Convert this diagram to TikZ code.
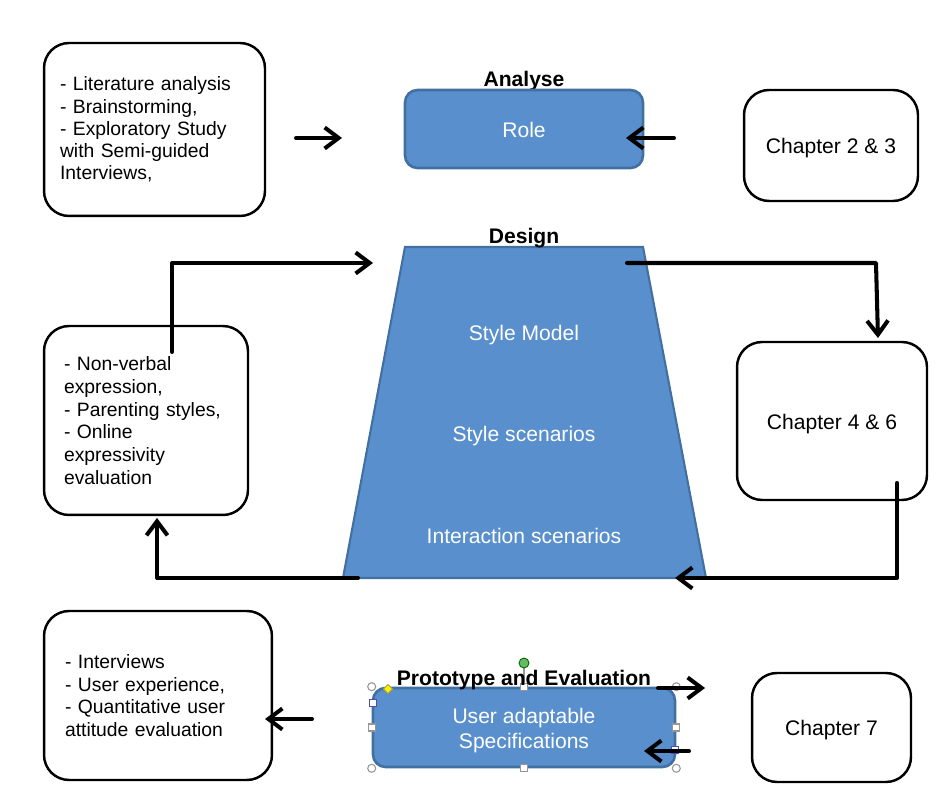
\documentclass[tikz,border=0pt]{standalone}
\usepackage{fontspec}
\setmainfont{Liberation Sans}
\usetikzlibrary{arrows.meta}

\definecolor{phasefill}{RGB}{88,143,204}
\definecolor{phaseedge}{RGB}{66,112,160}
\definecolor{handlegray}{RGB}{150,150,150}

\begin{document}
\begin{tikzpicture}[x=0.02cm, y=-0.02cm,
  note/.style={draw, line width=1.4pt, rounded corners=0.5cm, align=left,
    font=\fontsize{11}{12.9}\selectfont, inner ysep=0pt},
  chap/.style={draw, line width=1.4pt, rounded corners=0.5cm, font=\fontsize{12}{14}\selectfont,
    text height=12pt, text depth=2.5pt},
  phase/.style={draw=phaseedge, fill=phasefill, line width=1.5pt, rounded corners=0.25cm,
    text=white, align=center, font=\fontsize{12}{14}\selectfont},
  step label/.style={font=\bfseries\fontsize{12}{14}\selectfont},
  inner/.style={text=white, align=center, font=\fontsize{12}{14}\selectfont},
  arr/.style={line width=2.3pt, line cap=round, line join=round,
    -{Straight Barb[length=0.28cm, width=0.42cm, line width=2.3pt]}},
  handle/.style={draw=handlegray, fill=white, line width=0.6pt},
  grip/.style={draw=handlegray, fill=white, line width=0.6pt, minimum size=0.14cm, inner sep=0pt}]

  \useasboundingbox (0,0) rectangle (944,810);

  % analyse row
  \node[note, text width=3.78cm, inner xsep=0.32cm, minimum height=3.46cm,
    font=\fontsize{11}{12.6}\selectfont] (lit) at (154.5,129.5)
    {- Literature analysis\\- Brainstorming,\\- Exploratory Study\\with Semi-guided\\Interviews,};
  \node[step label] (analyse) at (524,81) {Analyse};
  \node[phase, minimum width=4.76cm, minimum height=1.56cm, text height=12pt, text depth=2.5pt]
    (role) at (524,129) {Role};
  \node[chap, minimum width=3.48cm, minimum height=2.22cm] (ch23) at (831,145.5) {Chapter 2 \& 3};

  % design row
  \draw[phaseedge, fill=phasefill, line width=1.2pt]
    (405,247) coordinate (tl) -- (643,247) coordinate (tr)
    -- (706,578) coordinate (br) -- (343,578) coordinate (bl) -- cycle;
  \node[step label] (design) at (524,238) {Design};
  \node[inner] (model) at (524,335) {Style Model};
  \node[inner] (scen) at (524,436) {Style scenarios};
  \node[inner] (inter) at (524,536) {Interaction scenarios};
  \node[note, text width=3.28cm, inner xsep=0.4cm, minimum height=3.78cm] (nonverbal) at (146,420.5)
    {- Non-verbal\\expression,\\- Parenting styles,\\- Online\\expressivity\\evaluation};
  \node[chap, minimum width=3.8cm, minimum height=3.16cm] (ch46) at (832,421) {Chapter 4 \& 6};

  % prototype row
  \node[note, text width=3.72cm, inner xsep=0.42cm, minimum height=3.38cm] (interviews) at (158,695.5)
    {- Interviews\\- User experience,\\- Quantitative user\\attitude evaluation};
  \node[phase, minimum width=6.04cm, minimum height=1.58cm] (spec) at (524,727.5) {};
  \node[inner] (spectext) at (524,730.5) {User adaptable\\Specifications};
  \node[chap, minimum width=3.18cm, minimum height=2.18cm] (ch7) at (831.5,727.5) {Chapter 7};

  % selection handles
  \draw[handlegray, line width=0.6pt] (524,666) -- (spec.north);
  \fill[green!55!black!60!white, draw=green!40!black, line width=0.5pt] (524,663) circle (0.1cm);
  \foreach \c in {spec.north west, spec.north east, spec.south west, spec.south east}
    \draw[handle] (\c) circle (0.08cm);
  \foreach \c in {spec.north, spec.south, spec.west, spec.east}
    \node[grip] at (\c) {};
  \node[grip, draw=blue!40!gray] at (373,703) {};
  \node[grip, draw=blue!40!gray] at (675,750) {};
  \node[draw=yellow!60!black, fill=yellow, line width=0.5pt, inner sep=0pt,
    minimum size=0.13cm, rotate=45] at (388,689) {};
  \node[step label] (proto) at (524,680) {Prototype and Evaluation};

  % connectors
  \coordinate (a1s) at (296,138); \coordinate (a1e) at (342,138);
  \coordinate (a2s) at (674,138); \coordinate (a2e) at (626,138);
  \coordinate (a3s) at (627,263); \coordinate (a3e) at (878,338);
  \coordinate (a4s) at (897,483); \coordinate (a4e) at (675,578);
  \coordinate (a5s) at (358,578); \coordinate (a5e) at (157,518);
  \coordinate (a6s) at (172,352); \coordinate (a6e) at (373,263);
  \coordinate (a7s) at (312,719); \coordinate (a7e) at (265,719);
  \coordinate (a8s) at (658,688); \coordinate (a8e) at (705,688);
  \coordinate (a9s) at (689,751); \coordinate (a9e) at (644,751);

  \draw[arr] (a1s) -- (a1e);
  \draw[arr] (a2s) -- (a2e);
  \draw[arr] (a3s) -- (876,263) -- (a3e);
  \draw[arr] (a4s) -- (897,578) -- (a4e);
  \draw[arr] (a5s) -- (157,578) -- (a5e);
  \draw[arr] (a6s) -- (172,263) -- (a6e);
  \draw[arr] (a7s) -- (a7e);
  \draw[arr] (a8s) -- (a8e);
  \draw[arr] (a9s) -- (a9e);
\end{tikzpicture}
\end{document}
